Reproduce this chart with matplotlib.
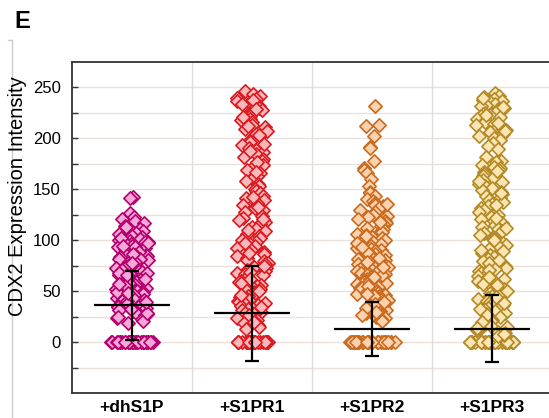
import numpy as np
import matplotlib.pyplot as plt
from matplotlib.lines import Line2D

plt.rcParams['font.family'] = ['Liberation Sans', 'DejaVu Sans']

groups = ['+dhS1P', '+S1PR1', '+S1PR2', '+S1PR3']
means = [36, 28, 12.5, 13]
sds = [33.7, 46.5, 26.3, 32.7]
zero_counts = [30, 26, 34, 34]

# non-zero intensities (zeros counted separately above)
dhs1p = [142, 141, 126, 123, 121, 119, 117, 114, 113, 111, 109, 107, 106, 104, 103, 101,
         100, 99, 98, 98, 96, 95, 94, 93, 92, 91, 90, 89, 88, 87, 86, 85, 84, 83, 82, 81,
         80, 79, 78, 77, 76, 75, 73, 72, 71, 70, 69, 68, 67, 66, 64, 63, 62, 61, 60, 59,
         58, 57, 56, 55, 54, 53, 51, 50, 49, 48, 47, 46, 45, 44, 43, 42, 41, 40, 38, 37,
         36, 35, 34, 33, 31, 30, 29, 28, 27, 26, 24, 23, 21, 19,
         102, 97, 93, 88, 85, 81, 78, 74, 71, 68, 65, 62, 58, 55, 52, 49, 46, 43, 40, 37,
         34, 31, 28, 25, 94, 86, 77, 66, 57, 48, 39, 32]
s1pr1 = [246, 243, 241, 239, 238, 236, 234, 233, 231, 229, 227, 226, 224, 222, 219, 218,
         216, 213, 211, 209, 207, 204, 202, 199, 197, 196, 193, 190, 188, 186, 184, 181,
         179, 177, 174, 171, 169, 166, 163, 160, 158, 155, 153, 150, 148, 146, 143, 141,
         139, 136, 134, 131, 129, 127, 124, 122, 120, 118, 116, 113, 111, 109, 106, 104,
         102, 100, 98, 96, 94, 92, 90, 88, 86, 84, 82, 80, 79, 77, 76, 74, 73, 71, 70, 68,
         67, 66, 64, 63, 61, 60, 59, 57, 56, 55, 53, 52, 51, 49, 48, 47, 45, 44, 43, 41,
         40, 39, 37, 36, 35, 33, 32, 31, 29, 28, 27, 25, 24, 22, 21, 19, 17, 15, 13,
         237, 228, 221, 212, 203, 194, 187, 176, 167, 142, 132, 121, 110, 97, 87, 75, 69,
         62, 58, 50, 46, 38, 34, 26, 20]
s1pr2 = [231, 213, 212, 202, 191, 190, 177, 171, 169, 166, 160, 153, 147, 146, 143, 140,
         138, 136, 134, 133, 131, 129, 127, 125, 124, 123, 121, 119, 117, 116, 114, 112,
         111, 109, 108, 106, 105, 103, 102, 100, 99, 98, 96, 95, 94, 92, 91, 90, 89, 87,
         86, 85, 84, 83, 81, 80, 79, 78, 77, 76, 75, 74, 73, 72, 71, 70, 69, 68, 67, 66,
         65, 64, 63, 62, 61, 60, 59, 58, 57, 56, 55, 54, 53, 52, 51, 50, 49, 48, 47, 46,
         45, 44, 43, 42, 41, 40, 39, 38, 37, 36, 35, 34, 33, 32, 31, 30, 29, 28, 27, 26,
         25, 24, 23, 22, 21,
         135, 118, 104, 97, 88, 82, 78, 71, 66, 62, 58, 53, 49, 45, 41, 37, 33, 29, 26,
         93, 74, 64, 55, 47, 39]
s1pr3 = [244, 241, 240, 238, 237, 236, 235, 233, 232, 231, 229, 228, 227, 225, 224, 222,
         221, 219, 218, 216, 214, 213, 211, 209, 208, 206, 204, 202, 200, 198, 195, 192,
         189, 181, 177, 176, 174, 172, 171, 169, 167, 165, 163, 161, 159, 157, 155, 153,
         151, 149, 147, 145, 143, 141, 139, 137, 135, 133, 131, 129, 127, 125, 123, 121,
         119, 117, 115, 113, 111, 109, 107, 105, 103, 101, 99, 97, 95, 93, 91, 89, 87, 85,
         83, 81, 79, 77, 75, 73, 72, 70, 68, 67, 65, 63, 62, 60, 58, 57, 55, 54, 52, 51,
         49, 48, 46, 45, 43, 42, 40, 39, 37, 36, 34, 33, 31, 30, 28, 27, 25, 24, 22, 21,
         19, 18, 16, 15, 13, 12, 10, 9, 7, 6,
         239, 230, 223, 215, 207, 168, 158, 146, 134, 122, 112, 100, 90, 80, 71, 64, 56,
         50, 44, 38, 32, 26, 20, 14, 8]

values = [dhs1p, s1pr1, s1pr2, s1pr3]
edge_colors = ['#b3006e', '#dc1a20', '#c96a1f', '#b38a27']
face_colors = ['#f6a8d8', '#f9b9bc', '#fcd3ae', '#fbe5b2']
zero_hw = [22, 17, 23, 22]   # half width (px) of the zero row


def spread(vals, zhw, seed):
    # deterministic side-by-side spread (hash of the index), wider where dense
    vals = np.asarray(vals, dtype=float)
    offs = []
    for k, v in enumerate(vals):
        if v == 0:
            hw = zhw
        else:
            n = np.sum(np.abs(vals - v) <= 5)
            hw = min(16, 5 + 1.5 * n)
        u = (np.sin((k + 1) * 12.9898 + seed * 78.233) * 43758.5453) % 1.0
        offs.append((2 * u - 1) * hw / 120.0)
    return np.array(offs)


fig = plt.figure(figsize=(5.49, 4.18), dpi=100)
ax = fig.add_axes([72 / 549, 25 / 418, 480 / 549, 331.5 / 418])
ax.set_xlim(-0.5, 3.5)
ax.set_ylim(-50, 275)

for y in np.arange(-25, 251, 25):
    ax.axhline(y, color='#ece0dc', lw=1.0, zorder=0)
for xg in [0.5, 1.5, 2.5]:
    ax.axvline(xg, color='#dddddd', lw=1.0, zorder=0)

for i, vals in enumerate(values):
    allv = [0] * zero_counts[i] + list(vals)
    x = i + spread(allv, zero_hw[i], i + 1)
    ax.scatter(x, allv, marker='D', s=46, facecolors=face_colors[i],
               edgecolors=edge_colors[i], linewidths=1.2, zorder=3)
    ax.hlines(means[i], i - 0.32, i + 0.32, color='black', lw=1.6, zorder=5)
    ax.errorbar(i, means[i], yerr=sds[i], fmt='none', ecolor='black',
                elinewidth=1.6, capsize=4.8, capthick=1.6, zorder=5)

ax.set_yticks(np.arange(0, 251, 50))
ax.set_yticks(np.arange(-25, 251, 50), minor=True)
ax.tick_params(axis='y', which='both', direction='in', length=4, width=1,
               labelsize=12, pad=8, colors='#333333', labelcolor='black')
ax.set_xticks(range(4))
ax.set_xticklabels(groups, fontweight='bold', fontsize=12.5)
ax.tick_params(axis='x', length=0, pad=5)

for s in ['left', 'bottom', 'top']:
    ax.spines[s].set_color('#333333')
    ax.spines[s].set_linewidth(1.3)
ax.spines['right'].set_visible(False)

fig.text(18 / 549, 0.53, 'CDX2 Expression Intensity', rotation=90,
         ha='center', va='center', fontsize=14.5)
fig.text(14 / 549, 1 - 28 / 418, 'E', fontsize=17, fontweight='bold')

fig.add_artist(Line2D([12 / 549, 12 / 549], [0, 1 - 40 / 418],
                      transform=fig.transFigure, color='#cccccc', lw=1))
fig.add_artist(Line2D([8 / 549, 12 / 549], [1 - 40 / 418, 1 - 40 / 418],
                      transform=fig.transFigure, color='#cccccc', lw=1))

fig.savefig('out.png', dpi=100)
